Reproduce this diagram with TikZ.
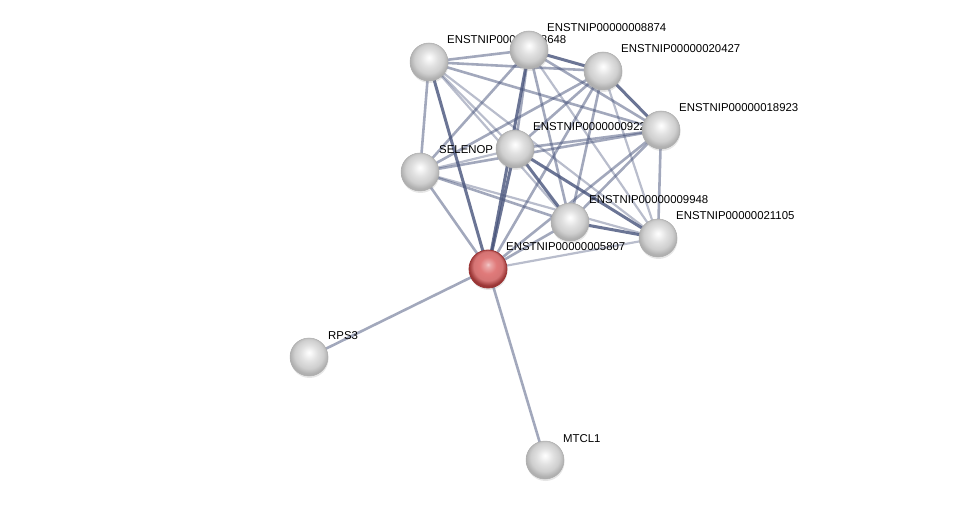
\documentclass[tikz,border=0pt]{standalone}
\usepackage{fontspec}
\setmainfont{Liberation Sans}
\usetikzlibrary{calc,shadows}
\definecolor{edgecol}{HTML}{46527A}
\definecolor{qred}{HTML}{E07A7A}
\definecolor{qrim}{HTML}{9A3535}
\pgfdeclareradialshading{greyball}{\pgfpoint{0bp}{6bp}}{%
  color(0bp)=(white); color(3bp)=(gray!6); color(11bp)=(gray!24);
  color(19bp)=(gray!38); color(25bp)=(gray!62); color(50bp)=(gray!62)}
\pgfdeclareradialshading{redball}{\pgfpoint{0bp}{6bp}}{%
  color(0bp)=(qred!40!white); color(3bp)=(qred!65!white); color(11bp)=(qred);
  color(19bp)=(qred!95!black); color(25bp)=(qrim); color(50bp)=(qrim)}

\begin{document}
\begin{tikzpicture}[x=1pt,y=-1pt,
  edge/.style={edgecol,line width=2.6pt,draw opacity=.5},
  heavy/.style={edgecol,line width=3pt,draw opacity=.8},
  light/.style={edgecol,line width=2.2pt,draw opacity=.38},
  lbl/.style={anchor=base west,inner sep=0pt,font=\fontsize{11.4}{12}\selectfont},
  ball/.style={circle,minimum size=38pt,inner sep=0pt,shading=greyball,draw=gray!65,line width=.5pt,
    drop shadow={shadow xshift=.5pt,shadow yshift=-2pt,opacity=.2}},
  query/.style={ball,shading=redball,draw=qrim,line width=.8pt}]
  \useasboundingbox (0,0) rectangle (975,505);

  % node positions
  \coordinate (p8648) at (429,62);
  \coordinate (p8874) at (529,50);
  \coordinate (p20427) at (603,71);
  \coordinate (p18923) at (661,130);
  \coordinate (p9226) at (515,149);
  \coordinate (psel) at (420,172);
  \coordinate (p9948) at (570,222);
  \coordinate (p21105) at (658,238);
  \coordinate (p5807) at (488,269);
  \coordinate (prps) at (309,357);
  \coordinate (pmtcl) at (545,460);

  % connectors
  \draw[edge] (p8648) -- (p8874);
  \draw[edge] (p8648) -- (p20427);
  \draw[edge] (p8648) -- (p18923);
  \draw[light] (p8648) -- (p9226);
  \draw[edge] (p8648) -- (psel);
  \draw[heavy] (p8648) -- (p5807);
  \draw[light] (p8648) -- (p9948);
  \draw[light] (p8648) -- (p21105);
  \draw[heavy] (p8874) -- (p20427);
  \draw[edge] (p8874) -- (p18923);
  \draw[edge] (p8874) -- (p9226);
  \draw[edge] (p8874) -- (psel);
  \draw[heavy] (p8874) -- (p5807);
  \draw[edge] (p8874) -- (p9948);
  \draw[light] (p8874) -- (p21105);
  \draw[heavy] (p20427) -- (p18923);
  \draw[edge] (p20427) -- (p9226);
  \draw[edge] (p20427) -- (psel);
  \draw[edge] (p20427) -- (p5807);
  \draw[edge] (p20427) -- (p9948);
  \draw[light] (p20427) -- (p21105);
  \draw[edge] (p18923) -- (p9226);
  \draw[edge] (p18923) -- (psel);
  \draw[edge] (p18923) -- (p5807);
  \draw[edge] (p18923) -- (p9948);
  \draw[edge] (p18923) -- (p21105);
  \draw[light] (p9226) -- (psel);
  \draw[heavy] (p9226) -- (p5807);
  \draw[heavy] (p9226) -- (p9948);
  \draw[heavy] (p9226) -- (p21105);
  \draw[edge] (psel) -- (p5807);
  \draw[edge] (psel) -- (p9948);
  \draw[light] (psel) -- (p21105);
  \draw[edge] (p9948) -- (p5807);
  \draw[heavy] (p9948) -- (p21105);
  \draw[light] (p21105) -- (p5807);
  \draw[edge] (p5807) -- (prps);
  \draw[edge] (p5807) -- (pmtcl);

  % labels
  \node[lbl] (l8648) at ($(p8648)+(18,-18)$) {ENSTNIP00000008648};
  \node[lbl] (l8874) at ($(p8874)+(18,-18)$) {ENSTNIP00000008874};
  \node[lbl] (l20427) at ($(p20427)+(18,-18)$) {ENSTNIP00000020427};
  \node[lbl] (l18923) at ($(p18923)+(18,-18)$) {ENSTNIP00000018923};
  \node[lbl] (l9226) at ($(p9226)+(18,-18)$) {ENSTNIP00000009226};
  \node[lbl] (lsel) at ($(psel)+(19,-18)$) {SELENOP};
  \node[lbl] (l9948) at ($(p9948)+(19,-18)$) {ENSTNIP00000009948};
  \node[lbl] (l21105) at ($(p21105)+(18,-18)$) {ENSTNIP00000021105};
  \node[lbl] (l5807) at ($(p5807)+(18,-18)$) {ENSTNIP00000005807};
  \node[lbl] (lrps) at ($(prps)+(19,-18)$) {RPS3};
  \node[lbl] (lmtcl) at ($(pmtcl)+(18,-18)$) {MTCL1};

  % balls
  \node[ball] (n8648) at (p8648) {};
  \node[ball] (n8874) at (p8874) {};
  \node[ball] (n20427) at (p20427) {};
  \node[ball] (n18923) at (p18923) {};
  \node[ball] (n9226) at (p9226) {};
  \node[ball] (nsel) at (psel) {};
  \node[ball] (n9948) at (p9948) {};
  \node[ball] (n21105) at (p21105) {};
  \node[query] (n5807) at (p5807) {};
  \node[ball] (nrps) at (prps) {};
  \node[ball] (nmtcl) at (pmtcl) {};
\end{tikzpicture}
\end{document}
